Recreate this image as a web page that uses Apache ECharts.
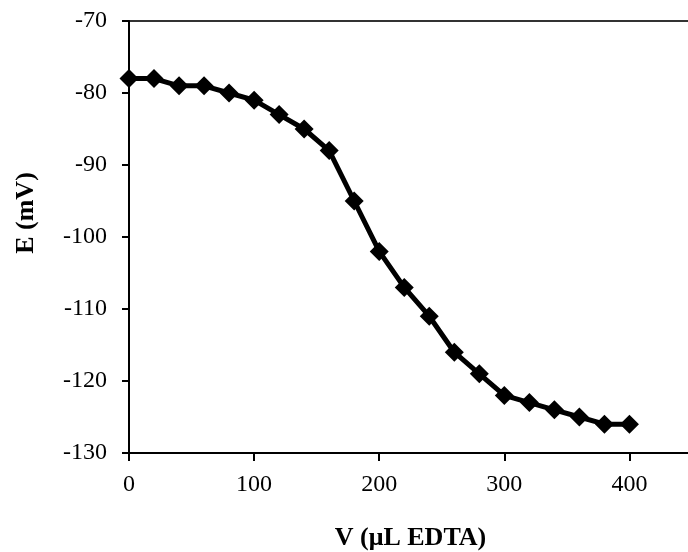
<!DOCTYPE html>
<html>
<head>
<meta charset="utf-8">
<script src="https://cdn.jsdelivr.net/npm/echarts@6/dist/echarts.min.js"></script>
<style>
    html, body {margin: 0; padding: 0; background: #fff;}
    #main {width: 688px; height: 552px;}
</style>
</head>
<body>
<div id="main"></div>
<script>
// 数据
let volume = [0, 20, 40, 60, 80, 100, 120, 140, 160, 180, 200, 220, 240, 260, 280, 300, 320, 340, 360, 380, 400];
let potential = [-78, -78, -79, -79, -80, -81, -83, -85, -88, -95, -102, -107, -111, -116, -119, -122, -123, -124, -125, -126, -126];
let xTicks = [0, 100, 200, 300, 400];

let points = [];
for (let i = 0; i < volume.length; i++) {
    points.push([volume[i], potential[i]]);
}

let font = '"Liberation Serif", "Times New Roman", serif';
let myChart = echarts.init(document.getElementById('main'));
let option = {
    animation: false,
    grid: {
        left: 129,
        top: 21,
        bottom: 99,
        right: -4,
        outerBoundsMode: 'none',
        show: true,
        borderColor: '#333',
        borderWidth: 2,
        backgroundColor: 'transparent'
    },
    xAxis: {
        type: 'value',
        min: 0,
        max: 450,
        interval: 50,
        name: 'V (μL EDTA)',
        nameLocation: 'middle',
        nameGap: 72,
        nameTextStyle: {fontFamily: font, fontSize: 26, fontWeight: 'bold', color: '#000'},
        axisLine: {lineStyle: {color: '#000', width: 2}},
        axisTick: {show: true, length: 8, customValues: xTicks, lineStyle: {color: '#000', width: 2}},
        axisLabel: {margin: 20, fontFamily: font, fontSize: 24, color: '#000', customValues: xTicks},
        splitLine: {show: false}
    },
    yAxis: {
        type: 'value',
        min: -130,
        max: -70,
        interval: 10,
        name: 'E (mV)',
        nameLocation: 'middle',
        nameGap: 90,
        nameTextStyle: {fontFamily: font, fontSize: 26, fontWeight: 'bold', color: '#000', padding: [0, 0, 0, 48]},
        axisLine: {show: true, lineStyle: {color: '#000', width: 2}},
        axisTick: {show: true, length: 7, lineStyle: {color: '#000', width: 2}},
        axisLabel: {margin: 22, fontFamily: font, fontSize: 24, color: '#000'},
        splitLine: {show: false}
    },
    series: [{
        type: 'line',
        data: points,
        symbol: 'diamond',
        symbolSize: 19,
        lineStyle: {color: '#000', width: 5},
        itemStyle: {color: '#000'}
    }]
};
myChart.setOption(option);
</script>
</body>
</html>
